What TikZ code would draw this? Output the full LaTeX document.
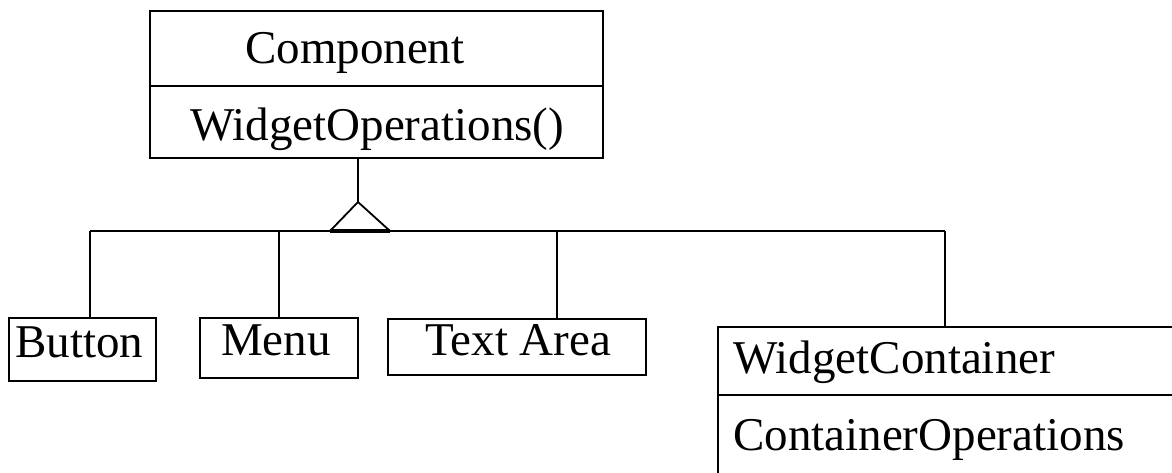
\documentclass[tikz,border=0pt]{standalone}
\usepackage{fontspec}
\setmainfont{Liberation Serif}
\usetikzlibrary{calc}

\newcommand{\umlfont}{\fontsize{47}{50}\selectfont}

\tikzset{
  cls/.style={draw, line width=1.8pt, inner sep=0pt, anchor=north west},
  lbl/.style={anchor=base west, inner sep=0pt, font=\umlfont},
  link/.style={line width=1.8pt},
}

\begin{document}
\begin{tikzpicture}[x=1pt,y=-1pt]
\useasboundingbox[fill=white] (0,0) rectangle (1172,472);
\clip (0,0) rectangle (1172,472);
% -- define boxes
\node[cls, minimum width=453, minimum height=75] (comphead) at (149,10) {};
\node[cls, minimum width=453, minimum height=72] (compops) at (149,85) {};
\node[cls, minimum width=147, minimum height=63] (button) at (8,317) {};
\node[cls, minimum width=158, minimum height=60] (menu) at (199,317) {};
\node[cls, minimum width=258, minimum height=56] (textarea) at (387,318) {};
\node[cls, minimum width=480, minimum height=68] (conthead) at (717,326) {};
\node[cls, minimum width=480, minimum height=100] (contops) at (717,394) {};
% -- labels
\node[lbl] (tcomp) at (245,63) {Component};
\node[lbl] (tcompops) at (190,140) {WidgetOperations()};
\node[lbl] (tbutton) at (15,357) {Button};
\node[lbl] (tmenu) at (221,355) {Menu};
\node[lbl] (ttext) at (425,355) {Text Area};
\node[lbl] (tcont) at (733,373) {WidgetContainer};
\node[lbl] (tcontops) at (733,450) {ContainerOperations};
% -- inheritance triangle
\coordinate (apex) at (358,202);
\coordinate (tl) at (330,231);
\coordinate (tr) at (390,231);
\draw[link] (compops.south -| apex) -- (apex);
\draw[link, line join=miter] (apex) -- (tr) -- (tl) -- cycle;
\draw[line width=3.5pt] (tl) -- (tr);
% -- bus and branches
\coordinate (j1) at (90,231);
\coordinate (j2) at (279,231);
\coordinate (j3) at (557,231);
\coordinate (j4) at (945,231);
\draw[link] (j1) -- (j4);
\foreach \j/\b in {j1/button, j2/menu, j3/textarea, j4/conthead}
  \draw[link] (\j) -- (\j |- \b.north);
\end{tikzpicture}
\end{document}
